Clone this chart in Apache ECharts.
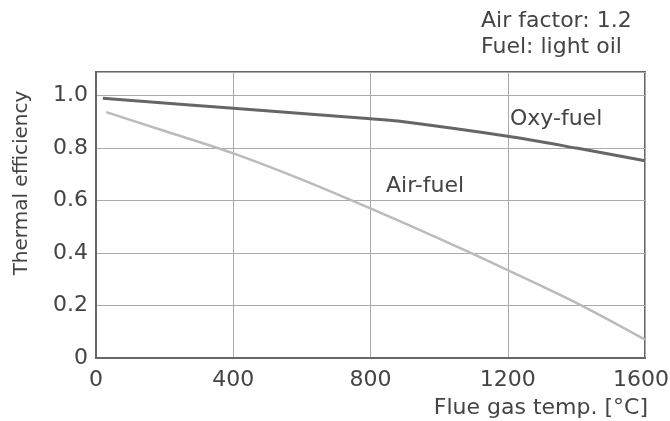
<!DOCTYPE html>
<html>
<head>
<meta charset="utf-8">
<script src="https://cdn.jsdelivr.net/npm/echarts@6/dist/echarts.min.js"></script>
<style>
html,body{margin:0;padding:0;background:#fff;}
#chart{width:670px;height:421px;}
</style>
</head>
<body>
<div id="chart"></div>
<script>
const oxyFuel = [[20,0.99],[400,0.952],[800,0.912],[880,0.903],[1200,0.845],[1400,0.800],[1600,0.752]];
const airFuel = [[30,0.937],[200,0.865],[400,0.78],[600,0.68],[800,0.57],[1000,0.455],[1200,0.335],[1400,0.21],[1600,0.07]];
const xTicks = [0,400,800,1200,1600];
const yTicks = [0,0.2,0.4,0.6,0.8,1.0];
const FONT = 'DejaVu Sans';
const TXT = '#444';

const chart = echarts.init(document.getElementById('chart'), null, {renderer:'canvas'});
chart.setOption({
  animation:false,
  backgroundColor:'#fff',
  grid:{left:96,right:25,top:72,bottom:63,outerBoundsMode:'none',containLabel:false,
        show:true,borderColor:'#666',borderWidth:2,backgroundColor:'transparent'},
  xAxis:{
    type:'value',min:0,max:1600,interval:400,
    axisLine:{show:true,lineStyle:{color:'#666',width:2}},
    axisTick:{show:false},
    splitLine:{show:true,lineStyle:{color:'#aaa',width:1}},
    axisLabel:{color:TXT,fontFamily:FONT,fontSize:22,margin:11,hideOverlap:false,
      rich:{last:{fontFamily:FONT,fontSize:22,color:TXT,padding:[0,8,0,0]}},
      formatter:v=>{
        if(!xTicks.includes(v)) return '';
        return v===xTicks[xTicks.length-1] ? '{last|'+v+'}' : String(v);
      }}
  },
  yAxis:{
    type:'value',min:0,max:1.09,interval:0.2,
    axisLine:{show:true,lineStyle:{color:'#666',width:2}},
    axisTick:{show:false},
    splitLine:{show:true,lineStyle:{color:'#aaa',width:1}},
    axisLabel:{color:TXT,fontFamily:FONT,fontSize:22,margin:8,showMaxLabel:false,
      formatter:v=>{const t=yTicks.find(y=>Math.abs(y-v)<1e-6);return t===undefined?'':(t===0?'0':t.toFixed(1));}}
  },
  series:[
    {name:'Oxy-fuel',type:'line',data:oxyFuel,symbol:'none',smooth:0.3,
     lineStyle:{color:'#666',width:3}},
    {name:'Air-fuel',type:'line',data:airFuel,symbol:'none',smooth:0.3,
     lineStyle:{color:'#bbb',width:2.5}}
  ],
  graphic:[
    {type:'text',left:481,top:10,style:{text:'Air factor: 1.2',font:'22px "DejaVu Sans"',fill:TXT}},
    {type:'text',left:481,top:36,style:{text:'Fuel: light oil',font:'22px "DejaVu Sans"',fill:TXT}},
    {type:'text',left:510,top:108,style:{text:'Oxy-fuel',font:'22px "DejaVu Sans"',fill:TXT}},
    {type:'text',left:386,top:175,style:{text:'Air-fuel',font:'22px "DejaVu Sans"',fill:TXT}},
    {type:'text',right:22,top:397,style:{text:'Flue gas temp. [°C]',font:'22px "DejaVu Sans"',fill:TXT}},
    {type:'text',x:22,y:183,rotation:Math.PI/2,style:{text:'Thermal efficiency',font:'20px "DejaVu Sans"',fill:TXT,align:'center',verticalAlign:'middle'}}
  ]
});
</script>
</body>
</html>
